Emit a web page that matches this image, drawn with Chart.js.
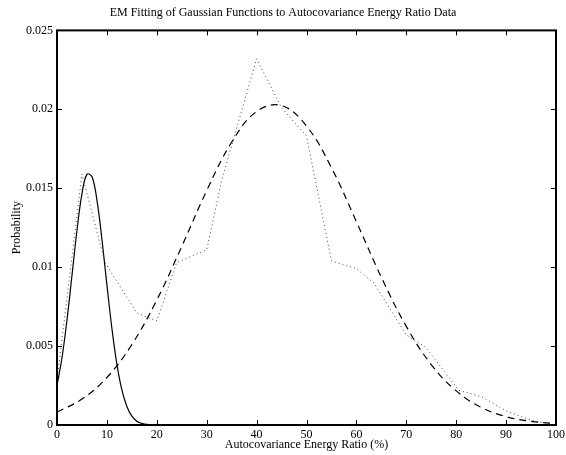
<!DOCTYPE html>
<html>
<head>
<meta charset="utf-8">
<script src="https://cdn.jsdelivr.net/npm/chart.js@4/dist/chart.umd.min.js"></script>
<style>
  html, body { margin: 0; padding: 0; background: #fff; }
  #wrap { width: 566px; height: 455px; }
</style>
</head>
<body>
<div id="wrap"><canvas id="chart"></canvas></div>
<script>
// histogram of the data (dotted)
var dataX = [0, 5, 9.6, 16, 20, 24, 30, 33, 40, 45, 50, 55, 60, 63.5, 70, 74, 80.5, 85, 90, 95, 100];
var dataY = [0.0028, 0.0159, 0.0103, 0.0071, 0.0066, 0.0103, 0.0111, 0.0155, 0.0232, 0.0201, 0.0183, 0.0104, 0.0099, 0.0090, 0.0057, 0.0049, 0.0022, 0.0018, 0.0009, 0.0003, 0.0000];

// first gaussian (solid)
var smallX = [0, 1, 2, 3, 4, 5, 6, 7, 8, 9, 10, 11, 12, 13, 14, 15, 16, 17, 18, 19, 20];
var smallY = [0.00250, 0.00426, 0.00665, 0.00947, 0.01232, 0.01464, 0.01588, 0.01574, 0.01425, 0.01177, 0.00889, 0.00613, 0.00386, 0.00222, 0.00117, 0.00056, 0.00024, 0.00010, 0.00004, 0.00001, 0];

// second gaussian (dashed)
var bigX = [0, 5, 10, 15, 20, 25, 30, 35, 40, 45, 50, 55, 60, 65, 70, 75, 80, 85, 90, 95, 100];
var bigY = [0.00082, 0.00164, 0.00301, 0.00510, 0.00792, 0.01131, 0.01485, 0.01791, 0.01986, 0.02023, 0.01894, 0.01630, 0.01288, 0.00936, 0.00625, 0.00383, 0.00216, 0.00112, 0.00053, 0.00023, 0.00009];

var xTicks = [0, 10, 20, 30, 40, 50, 60, 70, 80, 90, 100];
var yTicks = [0, 0.005, 0.01, 0.015, 0.02, 0.025];

var serif = "'Liberation Serif', 'Times New Roman', serif";

function pts(xs, ys) {
    return xs.map(function(x, i) { return { x: x, y: ys[i] }; });
}

// box round the axes with inward ticks on all four sides
var boxPlugin = {
    id: "box",
    afterDraw: function(chart) {
        var ctx = chart.ctx;
        var a = chart.chartArea;
        var xs = chart.scales.x, ys = chart.scales.y;
        var len = 5;
        ctx.save();
        ctx.strokeStyle = "#000";
        ctx.lineWidth = 1;
        xTicks.forEach(function(v) {
            var px = Math.round(xs.getPixelForValue(v)) + 0.5;
            ctx.beginPath();
            ctx.moveTo(px, a.bottom); ctx.lineTo(px, a.bottom - len);
            ctx.moveTo(px, a.top); ctx.lineTo(px, a.top + len);
            ctx.stroke();
        });
        yTicks.forEach(function(v) {
            var py = Math.round(ys.getPixelForValue(v)) + 0.5;
            ctx.beginPath();
            ctx.moveTo(a.left, py); ctx.lineTo(a.left + len, py);
            ctx.moveTo(a.right, py); ctx.lineTo(a.right - len, py);
            ctx.stroke();
        });
        ctx.lineWidth = 2;
        ctx.strokeRect(a.left, a.top, a.right - a.left, a.bottom - a.top);
        ctx.restore();
    }
};

new Chart(document.getElementById("chart"), {
    type: "line",
    data: {
        datasets: [{
            label: "data",
            data: pts(dataX, dataY),
            borderColor: "#444",
            borderWidth: 1,
            borderDash: [1, 3],
            pointRadius: 0,
            tension: 0
        }, {
            label: "gaussian 1",
            data: pts(smallX, smallY),
            borderColor: "#000",
            borderWidth: 1.2,
            pointRadius: 0,
            tension: 0.4
        }, {
            label: "gaussian 2",
            data: pts(bigX, bigY),
            borderColor: "#000",
            borderWidth: 1.2,
            borderDash: [7, 5],
            pointRadius: 0,
            tension: 0.4
        }]
    },
    options: {
        responsive: true,
        maintainAspectRatio: false,
        animation: false,
        layout: { padding: { left: 10, right: 10, top: 0, bottom: 0 } },
        plugins: {
            legend: { display: false },
            tooltip: { enabled: false },
            title: {
                display: true,
                text: "EM Fitting of Gaussian Functions to Autocovariance Energy Ratio Data",
                color: "#000",
                font: { family: serif, size: 12, weight: "normal" },
                padding: { top: 6, bottom: 10 }
            }
        },
        scales: {
            x: {
                type: "linear",
                min: 0,
                max: 100,
                afterFit: function(scale) {
                    scale.height = 30;
                    scale.paddingLeft = 0;
                    scale.paddingRight = 0;
                },
                afterBuildTicks: function(scale) {
                    scale.ticks = xTicks.map(function(v) { return { value: v }; });
                },
                grid: { display: false, drawTicks: false },
                border: { display: false },
                ticks: {
                    color: "#000",
                    padding: 3,
                    maxRotation: 0,
                    autoSkip: false,
                    font: { family: serif, size: 12 }
                },
                title: {
                    display: true,
                    text: "Autocovariance Energy Ratio (%)",
                    color: "#000",
                    font: { family: serif, size: 12 },
                    padding: { top: 0, bottom: 3 }
                }
            },
            y: {
                type: "linear",
                min: 0,
                max: 0.025,
                afterFit: function(scale) { scale.width = 47; },
                afterBuildTicks: function(scale) {
                    scale.ticks = yTicks.map(function(v) { return { value: v }; });
                },
                grid: { display: false, drawTicks: false },
                border: { display: false },
                ticks: {
                    color: "#000",
                    padding: 4,
                    font: { family: serif, size: 12 },
                    callback: function(v) { return String(+v.toFixed(3)); }
                },
                title: {
                    display: true,
                    text: "Probability",
                    color: "#000",
                    font: { family: serif, size: 12 },
                    padding: { top: 0, bottom: 0 }
                }
            }
        }
    },
    plugins: [boxPlugin]
});
</script>
</body>
</html>
